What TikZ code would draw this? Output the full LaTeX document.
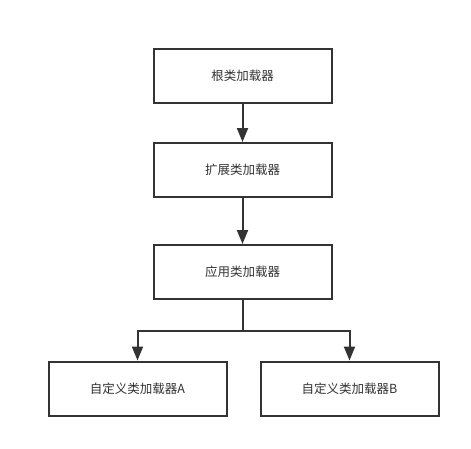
\documentclass[tikz,border=0pt]{standalone}
\usepackage{fontspec}
\setmainfont{Liberation Sans}
\newfontfamily\cjk{Noto Sans CJK SC}
\usetikzlibrary{arrows.meta}
\definecolor{ink}{HTML}{333333}
\begin{document}
\begin{tikzpicture}[x=1pt,y=-1pt,
  box/.style={draw=ink,line width=2pt,minimum width=178pt,minimum height=54pt,inner sep=0pt,
    font=\cjk\fontsize{12.5}{15}\selectfont,text=ink},
  conn/.style={draw=ink,line width=2pt,-{Triangle[width=11pt,length=14pt]}}]
\useasboundingbox (0,0) rectangle (471,448);
\node[box] (a) at (242.5,75.5) {根类加载器};
\node[box] (b) at (242.5,170) {扩展类加载器};
\node[box] (c) at (242.5,272) {应用类加载器};
\node[box] (d) at (137.5,388.5) {自定义类加载器A};
\node[box] (e) at (349.5,388.5) {自定义类加载器B};
\draw[conn] (a) -- (b);
\draw[conn] (b) -- (c);
\coordinate (j) at (242.5,331);
\draw[draw=ink,line width=2pt] (c) -- (j);
\draw[conn] (j) -| (d.north);
\draw[conn] (j) -| (e.north);
\end{tikzpicture}
\end{document}
